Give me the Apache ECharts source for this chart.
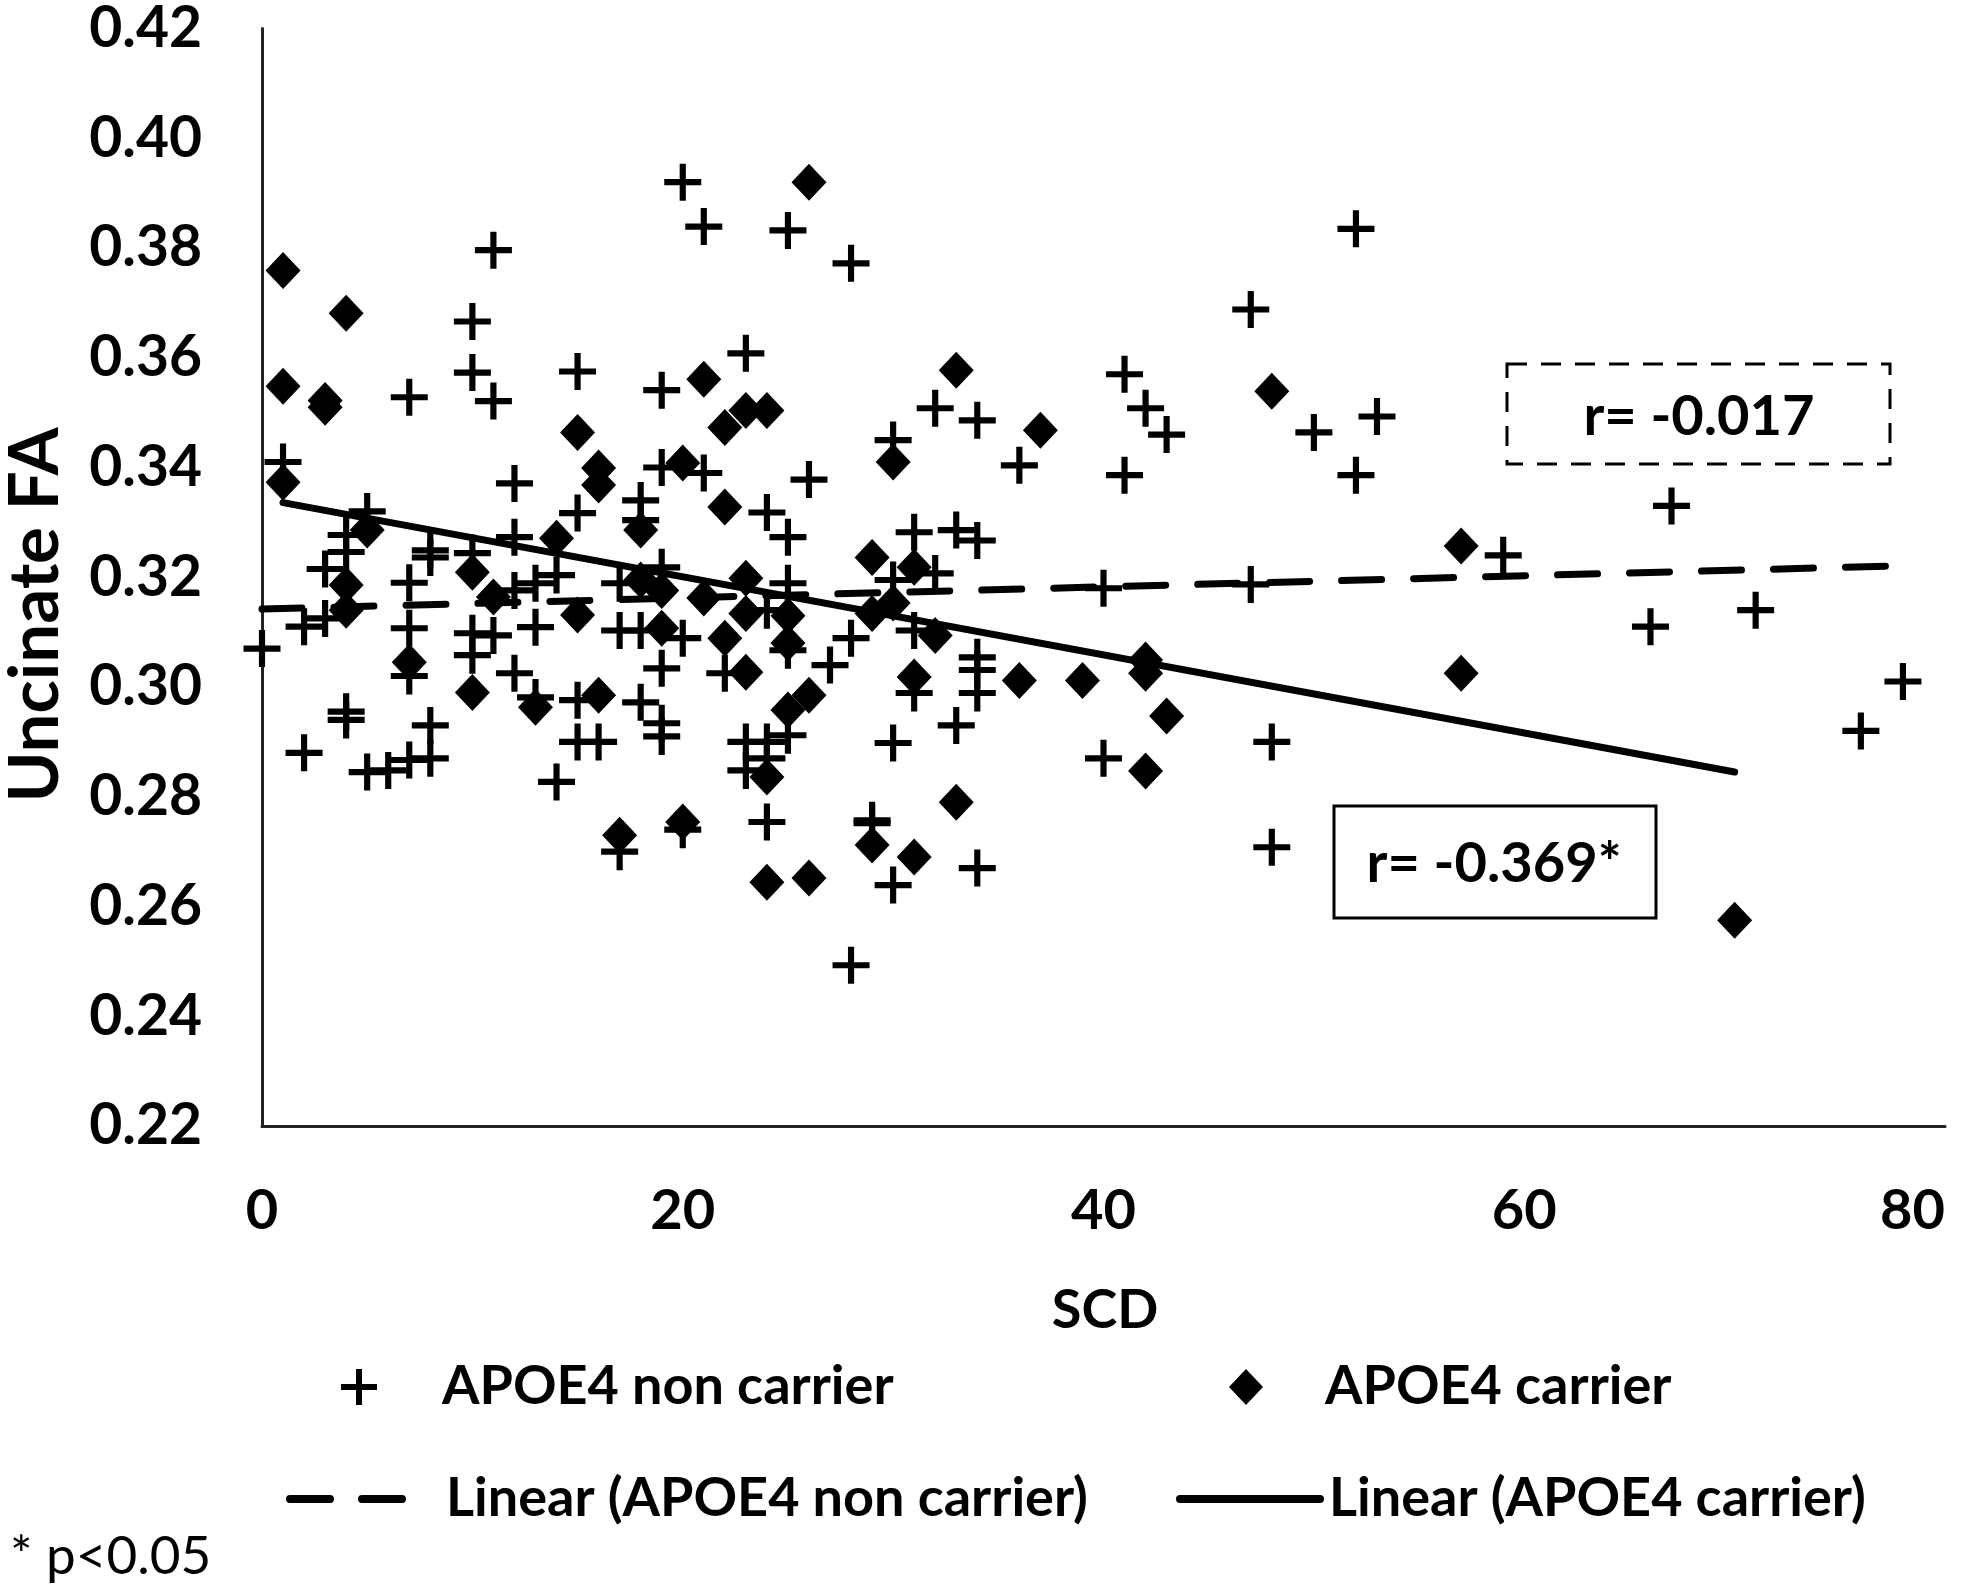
<!DOCTYPE html>
<html>
<head>
<meta charset="utf-8">
<script src="https://cdn.jsdelivr.net/npm/echarts@6/dist/echarts.min.js"></script>
<style>
  html, body { margin: 0; padding: 0; background: #fff; }
  #chart { width: 1983px; height: 1586px; }
</style>
</head>
<body>
<div id="chart"></div>
<script>
// SCD score vs uncinate FA
const nonCarrier = [
  [0,0.307],[1,0.341],[2,0.311],[2,0.288],[3,0.3125],[3,0.3215],
  [4,0.3277],[4,0.3246],[4,0.2955],[4,0.294],[5,0.332],[5,0.2845],[6,0.2848],
  [7,0.3528],[7,0.319],[7,0.3107],[7,0.302],[7,0.2867],
  [8,0.3249],[8,0.3236],[8,0.293],[8,0.287],
  [10,0.3666],[10,0.3573],[10,0.3244],[10,0.3098],[10,0.3058],
  [11,0.3796],[11,0.3521],[11,0.3094],
  [12,0.3371],[12,0.3273],[12,0.3176],[12,0.3025],
  [13,0.3189],[13,0.3109],[13,0.2981],[14,0.3204],[14,0.2827],
  [15,0.3575],[15,0.3317],[15,0.2976],[15,0.290],[16,0.290],
  [17,0.3189],[17,0.3103],[17,0.270],
  [18,0.334],[18,0.3304],[18,0.3103],[18,0.2972],
  [19,0.3541],[19,0.340],[19,0.3218],[19,0.3034],[19,0.2934],[19,0.291],
  [20,0.392],[20,0.3089],[20,0.274],[21,0.3839],[21,0.339],[22,0.3025],
  [23,0.3608],[23,0.290],[23,0.2848],
  [24,0.3318],[24,0.314],[24,0.290],[24,0.287],[24,0.2754],
  [25,0.3832],[25,0.3273],[25,0.3189],[25,0.3067],[25,0.2912],
  [26,0.3378],[27,0.304],[28,0.3772],[28,0.3089],[28,0.2493],
  [29,0.2757],[29,0.2752],
  [30,0.345],[30,0.3195],[30,0.2898],[30,0.2639],
  [31,0.3282],[31,0.3103],[31,0.2989],[32,0.3508],[32,0.3207],
  [33,0.3286],[33,0.293],
  [34,0.3486],[34,0.3267],[34,0.3054],[34,0.3031],[34,0.2989],[34,0.267],
  [36,0.3404],[40,0.318],[40,0.287],[41,0.357],[41,0.3386],[42,0.3508],[43,0.346],
  [47,0.3688],[47,0.3187],[48,0.290],[48,0.2708],[50,0.3464],
  [52,0.3835],[52,0.3386],[53,0.3493],[59,0.324],[66,0.311],[67,0.333],
  [71,0.314],[76,0.292],[78,0.301]
];

const carrier = [
  [1,0.3759],[1,0.3548],[1,0.3373],[3,0.3522],[3,0.351],
  [4,0.3681],[4,0.3186],[4,0.314],[5,0.3286],[7,0.3045],
  [10,0.3209],[10,0.299],[11,0.3164],[13,0.2963],[14,0.3271],
  [15,0.3464],[15,0.3131],[16,0.3399],[16,0.3368],[16,0.2985],[17,0.273],
  [18,0.3286],[18,0.3195],[19,0.3176],[19,0.3107],[20,0.3408],[20,0.2754],
  [21,0.3561],[21,0.3162],[22,0.3473],[22,0.3328],[22,0.3089],
  [23,0.3504],[23,0.3198],[23,0.3134],[23,0.3027],
  [24,0.3504],[24,0.2836],[24,0.2644],[25,0.313],[25,0.308],[25,0.2958],
  [26,0.392],[26,0.2985],[26,0.2652],[29,0.3236],[29,0.3134],[29,0.2712],
  [30,0.341],[30,0.3153],[31,0.3218],[31,0.3018],[31,0.269],[32,0.3094],
  [33,0.3577],[33,0.279],[36,0.3012],[37,0.3468],[39,0.3012],
  [42,0.3049],[42,0.3025],[42,0.2847],[43,0.2947],[48,0.3539],
  [57,0.3257],[57,0.3025],[70,0.2575]
];

// linear trend lines (end points as drawn)
const trendNonCarrier = [[0,0.3142],[78,0.3221]];
const trendCarrier = [[1,0.3336],[70,0.2845]];

const xTicks = { min: 0, max: 80, step: 20 };
const yTicks = { min: 0.22, max: 0.42, step: 0.02 };

const names = ['APOE4 non carrier', 'APOE4 carrier',
  'Linear (APOE4 non carrier)', 'Linear (APOE4 carrier)'];
const rLabels = ['r= -0.017', 'r= -0.369*'];

const FONT = 'Lato, "Open Sans", sans-serif';
const PLUS = 'path://M5,0 L7,0 L7,5 L12,5 L12,7 L7,7 L7,12 L5,12 L5,7 L0,7 L0,5 L5,5 Z';

const chart = echarts.init(document.getElementById('chart'));

const legendText = (pad) => ({
  fontFamily: FONT, fontWeight: 'bold', fontSize: 54, color: '#000',
  lineHeight: 58, padding: [0, 0, 0, pad]
});

const option = {
  backgroundColor: '#fff',
  animation: false,
  grid: { left: 262, right: 38, top: 28, bottom: 460 },
  xAxis: {
    type: 'value',
    min: xTicks.min, max: xTicks.max, interval: xTicks.step,
    axisLine: { show: true, lineStyle: { color: '#222', width: 3 } },
    axisTick: { show: false },
    splitLine: { show: false },
    axisLabel: {
      margin: 57, alignMaxLabel: 'right',
      fontFamily: FONT, fontWeight: 'bold', fontSize: 56, color: '#000'
    }
  },
  yAxis: {
    type: 'value',
    min: yTicks.min, max: yTicks.max, interval: yTicks.step,
    axisLine: { show: true, lineStyle: { color: '#222', width: 3 } },
    axisTick: { show: false },
    splitLine: { show: false },
    axisLabel: {
      margin: 60,
      formatter: v => v.toFixed(2),
      fontFamily: FONT, fontWeight: 'bold', fontSize: 57, color: '#000'
    }
  },
  legend: [
    { data: [names[0]], left: 341, top: 1358, padding: 0, itemWidth: 36, itemHeight: 37,
      textStyle: legendText(60), selectedMode: false },
    { data: [names[1]], left: 1229, top: 1358, padding: 0, itemWidth: 34, itemHeight: 36,
      textStyle: legendText(57), selectedMode: false },
    { data: [{ name: names[2], itemStyle: { opacity: 0 } }], left: 286, top: 1470, padding: 0,
      itemWidth: 113, itemHeight: 30,
      lineStyle: { width: 8 }, textStyle: legendText(38), selectedMode: false },
    { data: [{ name: names[3], itemStyle: { opacity: 0 } }], left: 1176, top: 1470, padding: 0,
      itemWidth: 140, itemHeight: 30,
      lineStyle: { width: 8 }, textStyle: legendText(4), selectedMode: false }
  ],
  series: [
    {
      name: names[0], type: 'scatter', data: nonCarrier,
      symbol: PLUS, symbolSize: 37,
      itemStyle: { color: '#000', opacity: 1 }
    },
    {
      name: names[1], type: 'scatter', data: carrier,
      symbol: 'diamond', symbolSize: [35, 37],
      itemStyle: { color: '#000', opacity: 1 }
    },
    {
      name: names[2], type: 'line', data: trendNonCarrier, z: 5,
      symbol: 'none', silent: true,
      itemStyle: { color: '#000' },
      lineStyle: { color: '#000', width: 7, type: [40, 32], cap: 'round' }
    },
    {
      name: names[3], type: 'line', data: trendCarrier, z: 5,
      symbol: 'none', silent: true,
      itemStyle: { color: '#000' },
      lineStyle: { color: '#000', width: 7, cap: 'round' }
    }
  ],
  graphic: [
    { type: 'text', x: 36, y: 615, rotation: Math.PI / 2,
      style: { text: 'Uncinate FA', fontFamily: FONT, fontWeight: 'bold', fontSize: 69,
        fill: '#000', align: 'center', verticalAlign: 'middle' } },
    { type: 'text', x: 1105, y: 1311,
      style: { text: 'SCD', fontFamily: FONT, fontWeight: 'bold', fontSize: 54,
        fill: '#000', align: 'center', verticalAlign: 'middle' } },
    { type: 'rect', shape: { x: 1507, y: 364, width: 383, height: 100 },
      style: { fill: '#fff', stroke: '#000', lineWidth: 3, lineDash: [20, 14] }, z: 10 },
    { type: 'text', x: 1699, y: 417, z: 11,
      style: { text: rLabels[0], fontFamily: FONT, fontWeight: 'bold', fontSize: 56,
        fill: '#000', align: 'center', verticalAlign: 'middle' } },
    { type: 'rect', shape: { x: 1334, y: 806, width: 322, height: 112 },
      style: { fill: '#fff', stroke: '#000', lineWidth: 3 }, z: 10 },
    { type: 'text', x: 1494, y: 864, z: 11,
      style: { text: rLabels[1], fontFamily: FONT, fontWeight: 'bold', fontSize: 56,
        fill: '#000', align: 'center', verticalAlign: 'middle' } },
    { type: 'text', x: 10, y: 1557,
      style: { text: '* p<0.05', fontFamily: FONT, fontSize: 53,
        fill: '#000', align: 'left', verticalAlign: 'middle' } }
  ]
};

chart.setOption(option);
</script>
</body>
</html>
